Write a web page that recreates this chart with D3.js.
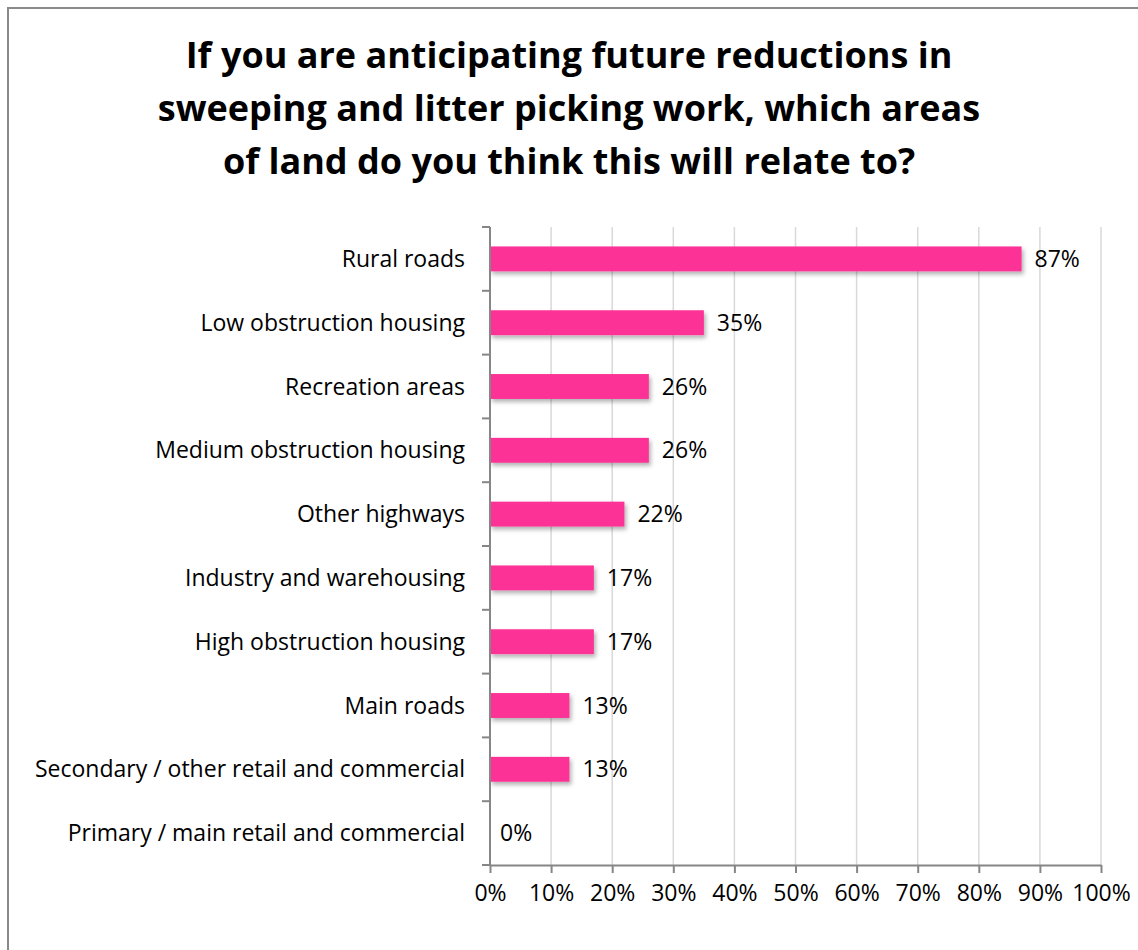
<!DOCTYPE html>
<html>
<head>
<meta charset="utf-8">
<script src="https://cdn.jsdelivr.net/npm/d3@7"></script>
<style>
  html, body { margin: 0; padding: 0; background: #fff; }
  svg { display: block; }
</style>
</head>
<body>
<svg id="chart" width="1138" height="950"></svg>
<script>
// Survey responses: share of respondents per area of land
const categories = [
  "Rural roads",
  "Low obstruction housing",
  "Recreation areas",
  "Medium obstruction housing",
  "Other highways",
  "Industry and warehousing",
  "High obstruction housing",
  "Main roads",
  "Secondary / other retail and commercial",
  "Primary / main retail and commercial"
];
const values = [87, 35, 26, 26, 22, 17, 17, 13, 13, 0];
const xTicks = [0, 10, 20, 30, 40, 50, 60, 70, 80, 90, 100];
const titleLines = [
  "If you are anticipating future reductions in",
  "sweeping and litter picking work, which areas",
  "of land do you think this will relate to?"
];

const FONT = "'Open Sans', 'DejaVu Sans', sans-serif";
const LABEL_SIZE = 23;
const svg = d3.select("#chart");

// frame
svg.append("path")
  .attr("d", "M8,950 L8,8 L1138,8")
  .attr("fill", "none")
  .attr("stroke", "#8a8a8a")
  .attr("stroke-width", 2);

// drop shadow for bars
const defs = svg.append("defs");
const f = defs.append("filter").attr("id", "shadow")
  .attr("x", "-5%").attr("y", "-30%").attr("width", "115%").attr("height", "190%");
f.append("feDropShadow")
  .attr("dx", 2).attr("dy", 3).attr("stdDeviation", 2)
  .attr("flood-color", "#000").attr("flood-opacity", 0.3);

// title
svg.append("g").selectAll("text")
  .data(titleLines)
  .join("text")
  .attr("x", 569)
  .attr("y", (d, i) => 68 + i * 53)
  .attr("text-anchor", "middle")
  .attr("font-family", FONT)
  .attr("font-weight", "bold")
  .attr("font-size", 36)
  .attr("fill", "#000")
  .text(d => d);

const x = d3.scaleLinear().domain([0, 100]).range([490, 1101]);
const plotTop = 227, plotBottom = 865;
const y = d3.scaleBand().domain(categories).range([plotTop, plotBottom]).paddingInner(0.61).paddingOuter(0.305);
const step = y.step();

// vertical gridlines
svg.append("g").selectAll("line")
  .data(xTicks.filter(t => t > 0))
  .join("line")
  .attr("x1", d => x(d)).attr("x2", d => x(d))
  .attr("y1", plotTop).attr("y2", plotBottom)
  .attr("stroke", "#d9d9d9")
  .attr("stroke-width", 1.5);

// bars
svg.append("g").selectAll("rect")
  .data(values.map((v, i) => ({ c: categories[i], v })).filter(d => d.v > 0))
  .join("rect")
  .attr("x", x(0))
  .attr("y", d => y(d.c))
  .attr("width", d => x(d.v) - x(0))
  .attr("height", y.bandwidth())
  .attr("fill", "#fd3196")
  .attr("filter", "url(#shadow)");

// x axis
const xAxis = d3.axisBottom(x)
  .tickValues(xTicks)
  .tickSize(8)
  .tickSizeOuter(0)
  .tickPadding(12)
  .tickFormat(d => d + "%");
const gx = svg.append("g").attr("transform", `translate(0,${plotBottom})`).call(xAxis);
gx.select(".domain").attr("stroke", "#868686").attr("stroke-width", 2);
gx.selectAll(".tick line").attr("stroke", "#868686").attr("stroke-width", 2);
gx.selectAll(".tick text")
  .attr("font-family", FONT).attr("font-size", LABEL_SIZE).attr("fill", "#000");

// y axis: line with ticks at category boundaries
const gy = svg.append("g");
gy.append("line")
  .attr("x1", x(0)).attr("x2", x(0))
  .attr("y1", plotTop).attr("y2", plotBottom)
  .attr("stroke", "#868686").attr("stroke-width", 2);
gy.selectAll("line.tk")
  .data(d3.range(categories.length + 1))
  .join("line")
  .attr("class", "tk")
  .attr("x1", x(0) - 8).attr("x2", x(0))
  .attr("y1", i => plotTop + i * step).attr("y2", i => plotTop + i * step)
  .attr("stroke", "#868686").attr("stroke-width", 2);

// category labels
svg.append("g").selectAll("text")
  .data(categories)
  .join("text")
  .attr("x", 465)
  .attr("y", d => y(d) + y.bandwidth() / 2)
  .attr("dy", "0.35em")
  .attr("text-anchor", "end")
  .attr("font-family", FONT)
  .attr("font-size", LABEL_SIZE)
  .attr("fill", "#000")
  .text(d => d);

// value labels
svg.append("g").selectAll("text")
  .data(values.map((v, i) => ({ c: categories[i], v })))
  .join("text")
  .attr("x", d => x(d.v) + (d.v > 0 ? 13 : 10))
  .attr("y", d => y(d.c) + y.bandwidth() / 2)
  .attr("dy", "0.35em")
  .attr("font-family", FONT)
  .attr("font-size", LABEL_SIZE)
  .attr("fill", "#000")
  .text(d => d.v + "%");
</script>
</body>
</html>
